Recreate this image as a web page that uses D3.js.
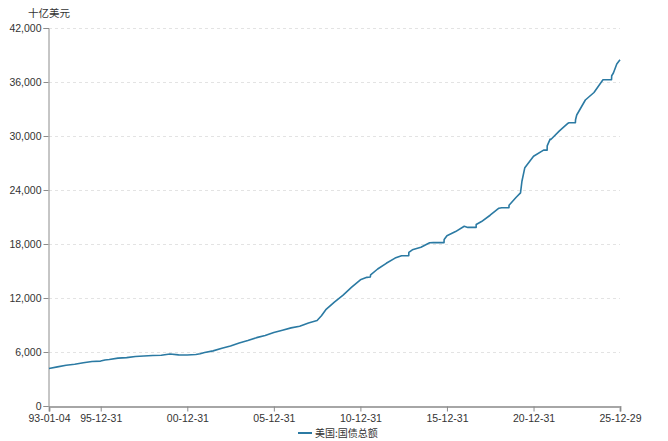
<!DOCTYPE html>
<html>
<head>
<meta charset="utf-8">
<script src="https://cdn.jsdelivr.net/npm/d3@7"></script>
<style>
  body { margin: 0; background: #fff; }
  svg { display: block; font-family: "Noto Sans CJK SC", "Noto Sans", sans-serif; }
</style>
</head>
<body>
<svg id="chart" width="668" height="441"></svg>
<script>
const seriesName = "美国:国债总额";
const unitLabel = "十亿美元";
const dates = [
"1993-01-04","1993-06-30","1993-12-31","1994-06-30","1994-12-30","1995-06-30","1995-12-29",
"1996-03-29","1996-06-28","1996-12-31","1997-06-30","1997-12-31","1998-06-30","1998-12-31",
"1999-06-30","1999-12-31","2000-06-30","2000-12-29","2001-06-29","2001-09-28","2001-12-31",
"2002-06-28","2002-12-31","2003-06-30","2003-12-31","2004-06-30","2004-12-31","2005-06-30",
"2005-12-30","2006-06-30","2006-12-29","2007-06-29","2007-12-31","2008-06-30","2008-09-30",
"2008-12-31","2009-06-30","2009-12-31","2010-06-30","2010-12-31","2011-05-16","2011-07-29",
"2011-08-03","2011-12-30","2012-06-29","2012-12-31","2013-05-17","2013-10-16","2013-10-18",
"2013-12-31","2014-06-30","2014-12-31","2015-03-16","2015-10-30","2015-11-02","2015-12-31",
"2016-06-30","2016-12-30","2017-03-16","2017-09-07","2017-09-08","2017-12-29","2018-06-29",
"2018-12-31","2019-03-01","2019-07-31","2019-08-02","2019-12-31","2020-03-31","2020-04-30",
"2020-06-30","2020-12-31","2021-07-31","2021-10-14","2021-10-15","2021-12-16","2021-12-31",
"2022-06-30","2022-12-30","2023-01-19","2023-06-02","2023-06-05","2023-06-30","2023-12-29",
"2024-06-28","2024-12-31","2025-01-02","2025-07-03","2025-07-07","2025-08-12","2025-10-22",
"2025-12-29"];
const values = [
4167,4350,4535,4645,4800,4951,4989,
5117,5161,5323,5377,5503,5548,5614,
5639,5776,5685,5662,5727,5807,5943,
6126,6405,6670,6998,7274,7596,7837,
8170,8420,8680,8868,9229,9492,10025,
10700,11545,12311,13201,14025,14294,14342,
14580,15222,15856,16433,16699,16699,17075,
17352,17632,18141,18152,18152,18492,18922,
19381,19977,19846,19846,20163,20493,21195,
21974,22030,22023,22300,23201,23686,24974,
26477,27748,28428,28428,28908,29650,29617,
30569,31420,31465,31465,31800,32332,34001,
34832,36218,36250,36250,36700,37000,38000,
38460];
const yTicks = [0,6000,12000,18000,24000,30000,36000,42000];
const xTickDates = ["1993-01-04","1995-12-31","2000-12-31","2005-12-31","2010-12-31","2015-12-31","2020-12-31","2025-12-29"];
const xTickLabels = ["93-01-04","95-12-31","00-12-31","05-12-31","10-12-31","15-12-31","20-12-31","25-12-29"];

const parse = d3.timeParse("%Y-%m-%d");
const data = dates.map((d,i) => ({date: parse(d), value: values[i]}));
const xTicks = xTickDates.map(parse);

const svg = d3.select("#chart");
const mLeft = 49, mRight = 620, mTop = 28, mBottom = 406;

const x = d3.scaleTime().domain([xTicks[0], xTicks[xTicks.length-1]]).range([mLeft, mRight]);
const y = d3.scaleLinear().domain([0, 42000]).range([mBottom, mTop]);

// gridlines
svg.append("g").selectAll("line").data(yTicks.filter(t => t > 0)).join("line")
  .attr("x1", mLeft).attr("x2", mRight)
  .attr("y1", d => y(d) + 0.5).attr("y2", d => y(d) + 0.5)
  .attr("stroke", "#e3e3e3").attr("stroke-width", 1).attr("stroke-dasharray", "3,3");

// y axis
const yAxis = svg.append("g").attr("transform", `translate(${mLeft - 0.5},0)`)
  .call(d3.axisLeft(y).tickValues(yTicks).tickSize(5).tickPadding(2).tickFormat(d3.format(",")));
yAxis.select(".domain").attr("stroke", "#8c8c8c");
yAxis.selectAll(".tick line").attr("stroke", "#8c8c8c");
yAxis.selectAll("text").attr("fill", "#333").style("font-size", "10.5px");

// x axis
const xAxis = svg.append("g").attr("transform", `translate(0,${mBottom + 0.5})`)
  .call(d3.axisBottom(x).tickValues(xTicks).tickSize(5).tickPadding(3).tickFormat((d,i) => xTickLabels[i]));
xAxis.select(".domain").attr("stroke", "#a6a6a6").attr("stroke-width", 2);
xAxis.selectAll(".tick line").attr("stroke", "#8c8c8c");
xAxis.selectAll("text").attr("fill", "#333").style("font-size", "10.5px");

// unit label
svg.append("text").attr("x", 49).attr("y", 17).attr("text-anchor", "middle")
  .attr("fill", "#333").style("font-size", "10.5px").text(unitLabel);

// line
const line = d3.line().x(d => x(d.date)).y(d => y(d.value));
svg.append("path").datum(data).attr("d", line)
  .attr("fill", "none").attr("stroke", "#2b7aa3").attr("stroke-width", 1.6)
  .attr("stroke-linejoin", "round");

// legend
svg.append("line").attr("x1", 298).attr("x2", 312).attr("y1", 433).attr("y2", 433)
  .attr("stroke", "#2b7aa3").attr("stroke-width", 2);
svg.append("text").attr("x", 315).attr("y", 437).attr("fill", "#333")
  .style("font-size", "10px").text(seriesName);
</script>
</body>
</html>
